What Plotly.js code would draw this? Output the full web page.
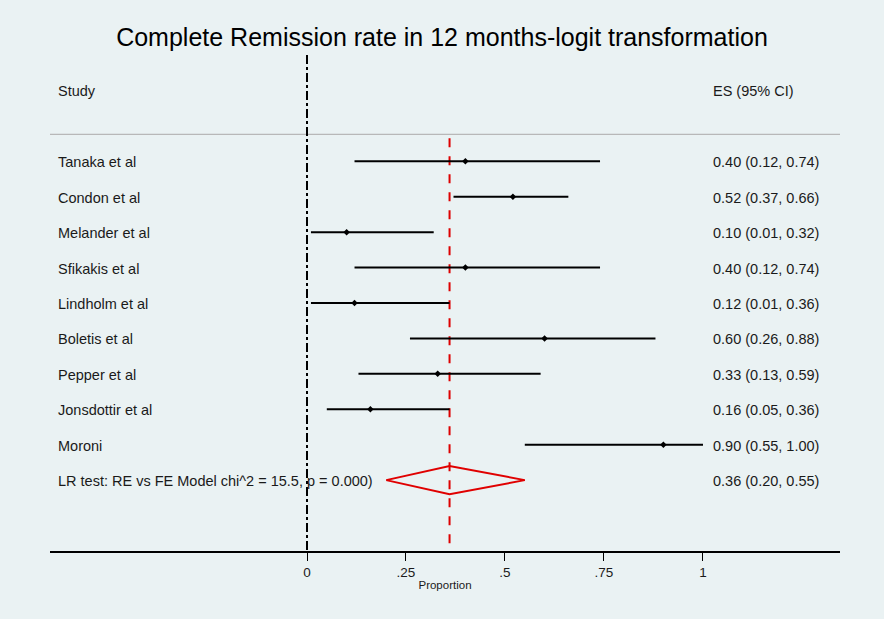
<!DOCTYPE html>
<html><head><meta charset="utf-8">
<script src="https://cdn.plot.ly/plotly-3.0.1.min.js"></script>
<style>html,body{margin:0;padding:0;background:#eaf2f3;}</style>
</head><body><div id="chart" style="width:884px;height:619px;"></div>
<script>
const studies = ["Tanaka et al","Condon et al","Melander et al","Sfikakis et al","Lindholm et al","Boletis et al","Pepper et al","Jonsdottir et al","Moroni"];
const es = [0.40,0.52,0.10,0.40,0.12,0.60,0.33,0.16,0.90];
const lo = [0.12,0.37,0.01,0.12,0.01,0.26,0.13,0.05,0.55];
const hi = [0.74,0.66,0.32,0.74,0.36,0.88,0.59,0.36,1.00];
const overallLabel = "LR test: RE vs FE Model chi^2 = 15.5, p = 0.000)";
const overall = {es:0.36, lo:0.20, hi:0.55};
const tickVals = [0,0.25,0.5,0.75,1];
const tickText = ["0",".25",".5",".75","1"];

const rows = studies.map((s,i)=>i+1);
const overallRow = studies.length+1;
const fmt = v => v.toFixed(2);

const cx=[], cy=[];
studies.forEach((s,i)=>{cx.push(lo[i],hi[i],null);cy.push(rows[i],rows[i],null);});

const traces = [
 {x:cx,y:cy,mode:'lines',line:{color:'#000',width:2},hoverinfo:'skip',showlegend:false},
 {x:es,y:rows,mode:'markers',marker:{color:'#000',size:5,symbol:'diamond'},showlegend:false},
 {x:[overall.lo,overall.es,overall.hi,overall.es,overall.lo],
  y:[overallRow,overallRow-0.4,overallRow,overallRow+0.4,overallRow],
  mode:'lines',line:{color:'#e00000',width:2},showlegend:false}
];

const font = {family:'Liberation Sans, Arial, sans-serif',size:14.5,color:'#1a1a1a'};
const xs = -0.634, xe = 1.02;
const annotations = [];
const add = (x,y,text)=>annotations.push({x,y,xref:'x',yref:'y',text,showarrow:false,xanchor:'left',yanchor:'middle',yshift:-1,font});
add(xs,-1,'Study');
add(xe,-1,'ES (95% CI)');
studies.forEach((s,i)=>{
  add(xs,rows[i],s);
  add(xe,rows[i],`${fmt(es[i])} (${fmt(lo[i])}, ${fmt(hi[i])})`);
});
add(xs,overallRow,overallLabel);
add(xe,overallRow,`${fmt(overall.es)} (${fmt(overall.lo)}, ${fmt(overall.hi)})`);

const shapes = [
 {type:'line',xref:'paper',yref:'y',x0:0,x1:1,y0:0.24,y1:0.24,line:{color:'#b8b8b8',width:1.2},layer:'below'},
 {type:'line',xref:'x',yref:'y',x0:0,x1:0,y0:-2,y1:12,line:{color:'#000',width:2,dash:'dashdot'},layer:'below'},
 {type:'line',xref:'x',yref:'y',x0:overall.es,x1:overall.es,y0:0.35,y1:12,line:{color:'#dd0000',width:2,dash:'dash'},layer:'below'}
];

const layout = {
 width:884,height:619,
 paper_bgcolor:'#eaf2f3',plot_bgcolor:'#eaf2f3',
 margin:{l:50,r:44,t:55,b:68},
 title:{text:'Complete Remission rate in 12 months-logit transformation',x:0.5,xanchor:'center',y:1-37/619,yref:'container',yanchor:'middle',
   font:{family:'Liberation Sans, Arial, sans-serif',size:25,color:'#000'}},
 xaxis:{range:[-0.649,1.346],tickvals:tickVals,ticktext:tickText,showgrid:false,zeroline:false,
   showline:true,linecolor:'#000',linewidth:1.5,ticks:'outside',ticklen:8,tickcolor:'#000',tickwidth:1,
   tickfont:{family:'Liberation Sans, Arial, sans-serif',size:13.5,color:'#1a1a1a'},
   title:{text:'Proportion',standoff:2,font:{family:'Liberation Sans, Arial, sans-serif',size:11.5,color:'#1a1a1a'}}},
 yaxis:{range:[12,-2],showgrid:false,zeroline:false,showticklabels:false,showline:false,ticks:''},
 annotations,shapes,showlegend:false
};
Plotly.newPlot('chart',traces,layout,{displayModeBar:false,staticPlot:true});
</script></body></html>
